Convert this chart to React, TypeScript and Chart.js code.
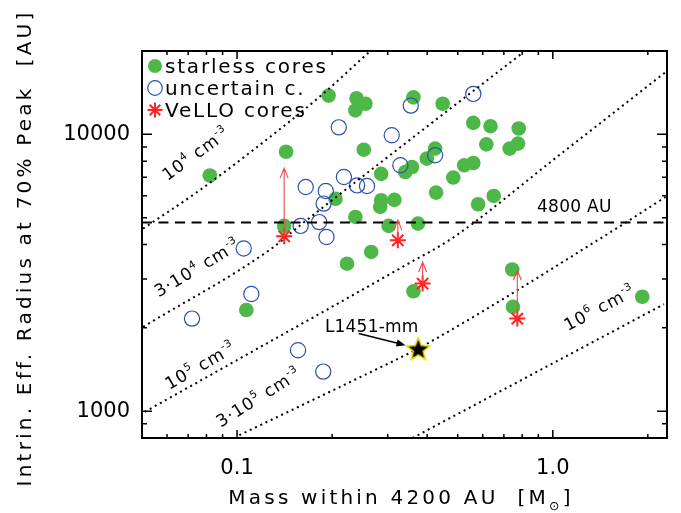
import React, { useEffect, useRef } from 'react';
import { Chart, registerables } from 'chart.js';

Chart.register(...registerables);

const FONT = '"DejaVu Sans", Verdana, sans-serif';

// Starless cores (filled green): mass within 4200 AU [Msun], effective radius [AU]
const starlessMass = [0.082, 0.143, 0.195, 0.239, 0.255, 0.237, 0.252, 0.286, 0.205, 0.286, 0.284, 0.315, 0.237, 0.141, 0.302, 0.362, 0.448, 0.56, 0.635, 0.78, 0.616, 0.73, 0.776, 0.424, 0.399, 0.358, 0.341, 0.524, 0.56, 0.484, 0.427, 0.58, 0.65, 0.374, 0.223, 0.266, 0.107, 0.362, 0.744, 0.748, 1.92];
const starlessRadius = [7100, 8650, 13800, 13500, 12900, 12200, 8800, 7200, 5850, 5780, 5470, 5800, 5030, 4670, 4670, 13600, 12900, 11000, 10700, 10500, 9200, 8880, 9260, 8880, 8170, 7620, 7310, 7730, 7880, 6980, 6160, 5590, 5990, 4760, 3410, 3760, 2320, 2710, 3250, 2380, 2590];

// Uncertain cores (open blue)
const uncertainMass = [0.21, 0.309, 0.165, 0.218, 0.191, 0.24, 0.258, 0.188, 0.329, 0.159, 0.182, 0.192, 0.56, 0.355, 0.424, 0.105, 0.111, 0.072, 0.156, 0.1875];
const uncertainRadius = [10600, 9920, 6450, 7010, 6240, 6540, 6510, 5620, 7730, 4670, 4820, 4260, 14000, 12700, 8400, 3870, 2650, 2160, 1660, 1390];

// VeLLO cores and the radius each one is raised to (arrow tips)
const velloMass = [0.141, 0.323, 0.387, 0.772];
const velloRadius = [4280, 4140, 2890, 2160];
const velloRadiusUp = [7550, 4900, 3460, 3230];

// L1451-mm
const l1451Mass = [0.375];
const l1451Radius = [1680];

// Constant-density tracks
const track1e4Mass = [0.0504, 0.0761, 0.1176, 0.1817, 0.2612];
const track1e4Radius = [4566, 6279, 9127, 13600, 19770];
const track3e4Mass = [0.0504, 0.1264, 0.161, 0.3247, 0.8043];
const track3e4Radius = [2015, 3813, 4760, 8878, 19720];
const track1e5Mass = [0.051, 0.1094, 0.3491, 0.4782, 1.037, 2.276];
const track1e5Radius = [994, 1620, 3414, 4203, 8330, 16780];
const track3e5Mass = [0.1017, 0.3247, 0.3754, 1.527, 2.276];
const track3e5Radius = [819, 1550, 1684, 4440, 5938];
const track1e6Mass = [0.3594, 2.249];
const track1e6Radius = [800, 2434];

const referenceRadius = 4800;

// Axis ticks
const xTickValues = [0.06, 0.07, 0.08, 0.09, 0.1, 0.2, 0.3, 0.4, 0.5, 0.6, 0.7, 0.8, 0.9, 1, 2];
const xMajor = [0.1, 1];
const xMajorText = ['0.1', '1.0'];
const yTickValues = [900, 1000, 2000, 3000, 4000, 5000, 6000, 7000, 8000, 9000, 10000];
const yMajor = [1000, 10000];
const yMajorText = ['1000', '10000'];

const GREEN = '#4db848';
const BLUE = '#2f4fae';
const RED = '#ff2424';

const pts = (xs: number[], ys: number[]) => xs.map((x, i) => ({ x, y: ys[i] }));

type Seg = { t: string; sup?: boolean; sub?: boolean };

function drawRich(ctx: CanvasRenderingContext2D, segs: Seg[], x: number, y: number, angle: number, size: number, spacing: number) {
  ctx.save();
  ctx.translate(x, y);
  ctx.rotate((angle * Math.PI) / 180);
  ctx.textAlign = 'left';
  ctx.textBaseline = 'alphabetic';
  ctx.fillStyle = '#000';
  const parts = segs.map((s) => {
    const fs = s.sup || s.sub ? size * 0.62 : size;
    ctx.font = `${fs}px ${FONT}`;
    (ctx as any).letterSpacing = `${spacing}px`;
    return { ...s, fs, w: ctx.measureText(s.t).width };
  });
  const total = parts.reduce((a, p) => a + p.w, 0);
  let cx = -total / 2;
  const base = size * 0.36;
  for (const p of parts) {
    ctx.font = `${p.fs}px ${FONT}`;
    (ctx as any).letterSpacing = `${spacing}px`;
    const dy = p.sup ? -size * 0.45 : p.sub ? size * 0.28 : 0;
    ctx.fillText(p.t, cx, base + dy);
    cx += p.w;
  }
  ctx.restore();
}

// Density labels along the tracks: [mass, radius, angle]
const densityLabels: { segs: Seg[]; at: [number, number]; angle: number }[] = [
  { segs: [{ t: '10' }, { t: '4', sup: true }, { t: ' cm' }, { t: '-3', sup: true }], at: [0.0739, 8540], angle: -36 },
  { segs: [{ t: '3·10' }, { t: '4', sup: true }, { t: ' cm' }, { t: '-3', sup: true }], at: [0.0746, 3303], angle: -31 },
  { segs: [{ t: '10' }, { t: '5', sup: true }, { t: ' cm' }, { t: '-3', sup: true }], at: [0.0764, 1466], angle: -30 },
  { segs: [{ t: '3·10' }, { t: '5', sup: true }, { t: ' cm' }, { t: '-3', sup: true }], at: [0.1168, 1126], angle: -32 },
  { segs: [{ t: '10' }, { t: '6', sup: true }, { t: ' cm' }, { t: '-3', sup: true }], at: [1.404, 2367], angle: -28 },
];

function makeStar(): HTMLCanvasElement {
  const c = document.createElement('canvas');
  c.width = 30;
  c.height = 30;
  const g = c.getContext('2d')!;
  const R = 12;
  const r = 5.2;
  g.beginPath();
  for (let i = 0; i < 10; i++) {
    const rad = i % 2 === 0 ? R : r;
    const a = -Math.PI / 2 + (i * Math.PI) / 5;
    const px = 15 + rad * Math.cos(a);
    const py = 16 + rad * Math.sin(a);
    if (i === 0) g.moveTo(px, py);
    else g.lineTo(px, py);
  }
  g.closePath();
  g.fillStyle = '#000';
  g.fill();
  g.lineWidth = 1.6;
  g.strokeStyle = '#e6dc00';
  g.stroke();
  return c;
}

const decor = {
  id: 'decor',
  afterDatasetsDraw(chart: any) {
    const { ctx } = chart;
    const xs = chart.scales.x;
    const ys = chart.scales.y;
    const a = chart.chartArea;
    ctx.save();
    ctx.beginPath();
    ctx.rect(a.left, a.top, a.right - a.left, a.bottom - a.top);
    ctx.clip();

    // red arrows from each VeLLO core
    ctx.strokeStyle = '#f04848';
    ctx.lineWidth = 1.1;
    velloMass.forEach((m, i) => {
      const px = xs.getPixelForValue(m);
      const y0 = ys.getPixelForValue(velloRadius[i]);
      const y1 = ys.getPixelForValue(velloRadiusUp[i]);
      ctx.beginPath();
      ctx.moveTo(px, y0);
      ctx.lineTo(px, y1);
      ctx.moveTo(px - 4, y1 + 10);
      ctx.lineTo(px, y1);
      ctx.lineTo(px + 4, y1 + 10);
      ctx.stroke();
    });

    // density labels
    densityLabels.forEach((d) => {
      drawRich(ctx, d.segs, xs.getPixelForValue(d.at[0]), ys.getPixelForValue(d.at[1]), d.angle, 17, 1);
    });

    // 4800 AU label
    drawRich(ctx, [{ t: '4800 AU' }], xs.getPixelForValue(1.17), ys.getPixelForValue(5495), 0, 17, 0.3);

    // L1451-mm label and pointer
    drawRich(ctx, [{ t: 'L1451-mm' }], xs.getPixelForValue(0.267), ys.getPixelForValue(2027), 0, 17, 0.2);
    const sx = xs.getPixelForValue(0.2428);
    const sy = ys.getPixelForValue(1908);
    const ex = xs.getPixelForValue(0.3416);
    const ey = ys.getPixelForValue(1731);
    const ang = Math.atan2(ey - sy, ex - sx);
    ctx.strokeStyle = '#000';
    ctx.fillStyle = '#000';
    ctx.lineWidth = 1.5;
    ctx.beginPath();
    ctx.moveTo(sx, sy);
    ctx.lineTo(ex - 6 * Math.cos(ang), ey - 6 * Math.sin(ang));
    ctx.stroke();
    ctx.beginPath();
    ctx.moveTo(ex, ey);
    ctx.lineTo(ex - 9 * Math.cos(ang) + 3.5 * Math.sin(ang), ey - 9 * Math.sin(ang) - 3.5 * Math.cos(ang));
    ctx.lineTo(ex - 9 * Math.cos(ang) - 3.5 * Math.sin(ang), ey - 9 * Math.sin(ang) + 3.5 * Math.cos(ang));
    ctx.closePath();
    ctx.fill();
    ctx.restore();
  },
  afterDraw(chart: any) {
    const { ctx } = chart;
    const xs = chart.scales.x;
    const ys = chart.scales.y;
    const a = chart.chartArea;
    ctx.save();

    // inward ticks on all four sides
    ctx.strokeStyle = '#000';
    ctx.lineWidth = 1.5;
    ctx.beginPath();
    xTickValues.forEach((v) => {
      const px = xs.getPixelForValue(v);
      const len = xMajor.includes(v) ? 8 : 4;
      ctx.moveTo(px, a.bottom);
      ctx.lineTo(px, a.bottom - len);
      ctx.moveTo(px, a.top);
      ctx.lineTo(px, a.top + len);
    });
    yTickValues.forEach((v) => {
      const py = ys.getPixelForValue(v);
      const len = yMajor.includes(v) ? 10 : 5;
      ctx.moveTo(a.left, py);
      ctx.lineTo(a.left + len, py);
      ctx.moveTo(a.right, py);
      ctx.lineTo(a.right - len, py);
    });
    ctx.stroke();
    ctx.lineWidth = 2;
    ctx.strokeRect(a.left, a.top, a.right - a.left, a.bottom - a.top);

    // legend
    const lx = a.left + 13;
    const rows = [a.top + 15, a.top + 37, a.top + 59];
    ctx.fillStyle = GREEN;
    ctx.beginPath();
    ctx.arc(lx, rows[0], 7, 0, Math.PI * 2);
    ctx.fill();
    ctx.strokeStyle = BLUE;
    ctx.lineWidth = 1.2;
    ctx.beginPath();
    ctx.arc(lx, rows[1], 7.3, 0, Math.PI * 2);
    ctx.stroke();
    ctx.strokeStyle = RED;
    ctx.lineWidth = 2;
    ctx.beginPath();
    for (let k = 0; k < 4; k++) {
      const t = (k * Math.PI) / 4;
      ctx.moveTo(lx - 7.5 * Math.cos(t), rows[2] - 7.5 * Math.sin(t));
      ctx.lineTo(lx + 7.5 * Math.cos(t), rows[2] + 7.5 * Math.sin(t));
    }
    ctx.stroke();
    ctx.fillStyle = '#000';
    ctx.font = `20px ${FONT}`;
    (ctx as any).letterSpacing = '1.8px';
    ctx.textAlign = 'left';
    ctx.textBaseline = 'alphabetic';
    ctx.fillText('starless cores', lx + 10, rows[0] + 7);
    ctx.fillText('uncertain c.', lx + 10, rows[1] + 7);
    ctx.fillText('VeLLO cores', lx + 10, rows[2] + 7);

    // axis titles
    drawRich(ctx, [{ t: 'Mass within 4200 AU  [M' }, { t: '⊙', sub: true }, { t: ']' }], 401, 497, 0, 20, 3.2);
    drawRich(ctx, [{ t: 'Intrin. Eff. Radius at 70% Peak  [AU]' }], 24, 248, -90, 20, 3.2);
    ctx.restore();
  },
};

export default function App() {
  const ref = useRef<HTMLCanvasElement>(null);

  useEffect(() => {
    const canvas = ref.current!;
    const star = makeStar();
    const track = (xs: number[], ys: number[]) => ({
      data: pts(xs, ys),
      showLine: true,
      borderColor: '#000',
      borderWidth: 2,
      borderDash: [2, 3.8],
      pointRadius: 0,
      cubicInterpolationMode: 'monotone' as const,
      order: 3,
    });
    const chart = new Chart(canvas, {
      type: 'scatter',
      data: {
        datasets: [
          {
            label: 'L1451-mm',
            data: pts(l1451Mass, l1451Radius),
            pointStyle: star as any,
            pointRadius: 13,
            order: 0,
          },
          {
            label: 'VeLLO cores',
            data: pts(velloMass, velloRadius),
            pointStyle: 'star',
            pointRadius: 8,
            borderColor: RED,
            backgroundColor: RED,
            borderWidth: 2,
            order: 1,
          },
          {
            label: '4800 AU',
            data: [{ x: 0.05, y: referenceRadius }, { x: 2.3, y: referenceRadius }],
            showLine: true,
            borderColor: '#000',
            borderWidth: 2,
            borderDash: [10, 6.5],
            pointRadius: 0,
            order: 2,
          },
          track(track1e4Mass, track1e4Radius),
          track(track3e4Mass, track3e4Radius),
          track(track1e5Mass, track1e5Radius),
          track(track3e5Mass, track3e5Radius),
          track(track1e6Mass, track1e6Radius),
          {
            label: 'uncertain c.',
            data: pts(uncertainMass, uncertainRadius),
            pointStyle: 'circle',
            pointRadius: 7.6,
            borderColor: BLUE,
            backgroundColor: 'rgba(0,0,0,0)',
            borderWidth: 1.2,
            order: 4,
          },
          {
            label: 'starless cores',
            data: pts(starlessMass, starlessRadius),
            pointStyle: 'circle',
            pointRadius: 7.3,
            borderWidth: 0,
            backgroundColor: GREEN,
            order: 5,
          },
        ] as any,
      },
      options: {
        responsive: false,
        animation: false,
        devicePixelRatio: 1,
        layout: { padding: { left: 0, right: 12, top: 51, bottom: 0 } },
        plugins: { legend: { display: false }, tooltip: { enabled: false } },
        events: [],
        scales: {
          x: {
            type: 'logarithmic',
            min: 0.05,
            max: 2.3,
            grid: { display: false, drawTicks: false },
            border: { display: false },
            afterFit: (s: any) => {
              s.height = 75;
            },
            afterBuildTicks: (s: any) => {
              s.ticks = xTickValues.map((v) => ({ value: v, major: xMajor.includes(v) }));
            },
            ticks: {
              autoSkip: false,
              maxRotation: 0,
              minRotation: 0,
              padding: 18,
              color: '#000',
              font: { family: FONT, size: 21 },
              callback: (v: any) => {
                const i = xMajor.indexOf(Number(v));
                return i >= 0 ? xMajorText[i] : '';
              },
            },
          },
          y: {
            type: 'logarithmic',
            min: 800,
            max: 20000,
            grid: { display: false, drawTicks: false },
            border: { display: false },
            afterFit: (s: any) => {
              s.width = 142;
            },
            afterBuildTicks: (s: any) => {
              s.ticks = yTickValues.map((v) => ({ value: v, major: yMajor.includes(v) }));
            },
            ticks: {
              autoSkip: false,
              padding: 12,
              color: '#000',
              font: { family: FONT, size: 21 },
              callback: (v: any) => {
                const i = yMajor.indexOf(Number(v));
                return i >= 0 ? yMajorText[i] : '';
              },
            },
          },
        },
      },
      plugins: [decor],
    });
    return () => chart.destroy();
  }, []);

  return (
    <div style={{ position: 'absolute', left: 0, top: 0, width: 681, height: 513, background: '#fff' }}>
      <canvas ref={ref} width={681} height={513} style={{ display: 'block', width: 681, height: 513 }} />
    </div>
  );
}
